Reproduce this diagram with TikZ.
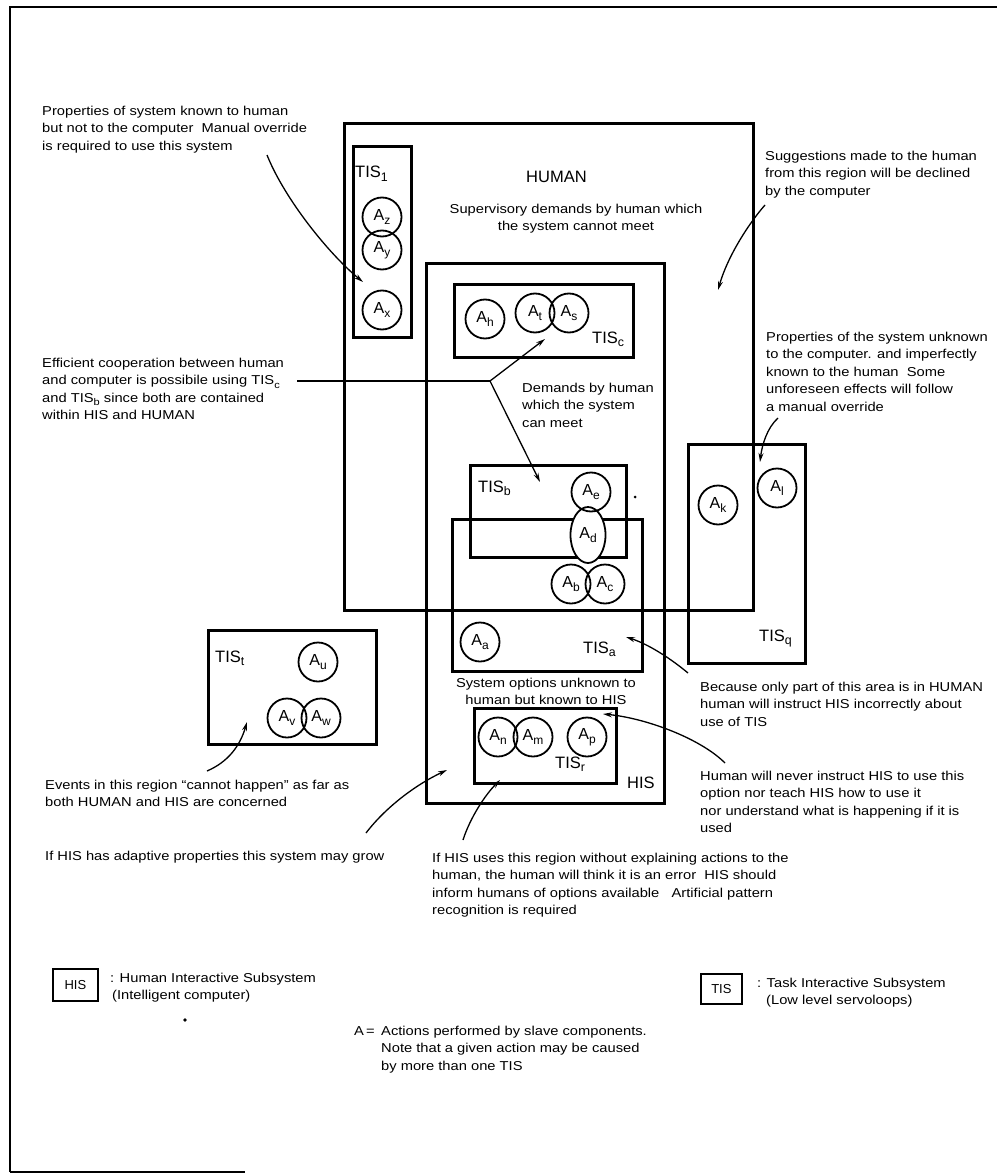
\documentclass[tikz,border=0pt]{standalone}
\usepackage{fontspec}
\setmainfont{Liberation Sans}[FakeStretch=1.14]
\newfontfamily\labfam{Liberation Sans}
\usepackage{graphicx}
\usetikzlibrary{arrows.meta,shapes.geometric}
\newcommand\lo[1]{\raisebox{-0.45ex}{\scalebox{0.75}{#1}}}
\newcommand\notefont{\fontsize{12.9}{17.5}\selectfont}
\newcommand\labfont{\labfam\fontsize{16.5}{18}\selectfont}
\newcommand\actfont{\labfam\fontsize{16}{18}\selectfont}
\tikzset{
  frameline/.style={line width=1.5pt},
  box/.style={draw, rectangle, line width=2.6pt, anchor=north west, inner sep=0},
  act/.style={draw, circle, line width=1.8pt, minimum size=39pt, inner sep=0, font=\actfont},
  actfill/.style={fill=white},
  note/.style={anchor=north west, inner sep=0, align=left, font=\notefont},
  lab/.style={anchor=base west, inner sep=0, font=\labfont},
  lead/.style={line width=1.3pt, -{Stealth[length=9pt,width=5pt]}},
  plain/.style={line width=1.3pt},
}
\begin{document}
\begin{tikzpicture}[x=1pt,y=-1pt]
\useasboundingbox (0,0) rectangle (997,1174);
% outer frame (as scanned)
\draw[frameline] (10,1172) -- (10,7) -- (997,7);
\draw[frameline] (10,1172) -- (245,1172);

% boxes
\node[box, minimum width=409pt, minimum height=487pt] (human) at (343,122) {};
\node[box, minimum width=58pt, minimum height=191pt] (tis1) at (352,145) {};
\node[box, minimum width=238pt, minimum height=540pt] (his) at (425,262) {};
\node[box, minimum width=179pt, minimum height=73pt] (tisc) at (453,283) {};
\node[box, minimum width=156pt, minimum height=92pt] (tisb) at (469,464) {};
\node[box, minimum width=190pt, minimum height=152pt] (tisa) at (451,518) {};
\node[box, minimum width=142pt, minimum height=75pt] (tisr) at (473,707) {};
\node[box, minimum width=117pt, minimum height=219pt] (tisq) at (687,443) {};
\node[box, minimum width=168pt, minimum height=114pt] (tist) at (207,629) {};

% white fills under the action circles
\foreach \p in {(382,217),(382,250),(382,310),(485,319),(535,313),(569,313),
  (591,492),(571,584),(605,584),(480,642),(498,737),(533,737),(587,737),
  (718,505),(777,488),(318,662),(287,718),(321,718)}
  \fill[actfill] \p circle (19.5pt);
\fill[actfill] (588,535) ellipse (17.5pt and 28pt);

% action circles
\node[act] (az) at (382,217) {A\lo{z}};
\node[act] (ay) at (382,250) {A\lo{y}};
\node[act] (ax) at (382,310) {A\lo{x}};
\node[act] (ah) at (485,319) {A\lo{h}};
\node[act] (at) at (535,313) {A\lo{t}};
\node[act] (as) at (569,313) {A\lo{s}};
\node[act] (ae) at (591,492) {A\lo{e}};
\node[draw, ellipse, line width=1.8pt, minimum width=35pt, minimum height=56pt, inner sep=0, font=\actfont] (ad) at (588,535) {A\lo{d}};
\node[act] (ab) at (571,584) {A\lo{b}};
\node[act] (ac) at (605,584) {A\lo{c}};
\node[act] (aa) at (480,642) {A\lo{a}};
\node[act] (an) at (498,737) {A\lo{n}};
\node[act] (am) at (533,737) {A\lo{m}};
\node[act] (ap) at (587,737) {A\lo{p}};
\node[act] (ak) at (718,505) {A\lo{k}};
\node[act] (al) at (777,488) {A\lo{l}};
\node[act] (au) at (318,662) {A\lo{u}};
\node[act] (av) at (287,718) {A\lo{v}};
\node[act] (aw) at (321,718) {A\lo{w}};

% box labels
\node[lab] (l1) at (355,178) {TIS\lo{1}};
\node[lab] (lc) at (592,343) {TIS\lo{c}};
\node[lab] (lb) at (478,492) {TIS\lo{b}};
\node[lab] (la) at (583,653) {TIS\lo{a}};
\node[lab] (lr) at (555,768) {TIS\lo{r}};
\node[lab] (lq) at (759,641) {TIS\lo{q}};
\node[lab] (lt) at (215,662) {TIS\lo{t}};
\node[lab] (lhis) at (627,788) {HIS};
\node[lab] (lhuman) at (526,183) {HUMAN};

% notes
\node[anchor=north, inner sep=0, align=center, font=\notefont] (tsup) at (576,201)
  {\strut Supervisory demands by human which\\the system cannot meet};
\node[note] (t1) at (42,103) {\strut Properties of system known to human\\but not to the computer\ \ Manual override\\is required to use this system};
\node[note] (t2) at (765,148) {\strut Suggestions made to the human\\from this region will be declined\\by the computer};
\node[note] (t3) at (766,329) {\strut Properties of the system unknown\\to the computer. and imperfectly\\known to the human\ \ Some\\unforeseen effects will follow\\a manual override};
\node[note] (t4) at (42,355) {\strut Efficient cooperation between human\\and computer is possibile using TIS\lo{c}\\and TIS\lo{b} since both are contained\\within HIS and HUMAN};
\node[note] (t5) at (522,380) {\strut Demands by human\\which the system\\can meet};
\node[anchor=north, inner sep=0, align=center, font=\notefont] (t6) at (546,675)
  {\strut System options unknown to\\human but known to HIS};
\node[note] (t7) at (700,679) {\strut Because only part of this area is in HUMAN\\human will instruct HIS incorrectly about\\use of TIS};
\node[note] (t8) at (700,768) {\strut Human will never instruct HIS to use this\\option nor teach HIS how to use it\\nor understand what is happening if it is\\used};
\node[note] (t9) at (45,777) {\strut Events in this region ``cannot happen'' as far as\\both HUMAN and HIS are concerned};
\node[note] (t10) at (45,848) {\strut If HIS has adaptive properties this system may grow};
\node[note] (t11) at (432,850) {\strut If HIS uses this region without explaining actions to the\\human, the human will think it is an error\ \ HIS should\\inform humans of options available\ \ \ Artificial pattern\\recognition is required};

% legend
\node[box, line width=1.8pt, minimum width=45pt, minimum height=32pt, font=\labfam\fontsize{13}{15}\selectfont] (kh) at (52,968) {HIS};
\node[note] (khtext) at (110,970) {\strut : Human Interactive Subsystem\\\hspace*{2pt}(Intelligent computer)};
\node[box, line width=1.8pt, minimum width=41pt, minimum height=30pt, font=\labfam\fontsize{13}{15}\selectfont] (kt) at (700,973) {TIS};
\node[note] (kttext) at (757,975) {\strut : Task Interactive Subsystem\\\hspace*{9pt}(Low level servoloops)};
\node[note] (ka) at (354,1023) {\strut A\,=};
\node[note] (katext) at (381,1023) {\strut Actions performed by slave components.\\Note that a given action may be caused\\by more than one TIS};

% specks
\fill (635,497) circle (1.5pt);
\fill (185,1020) circle (1.8pt);

% leader arrows
\coordinate (s1) at (267,155); \coordinate (e1) at (363,282);
\draw[lead] (s1) .. controls (285,200) and (330,255) .. (e1);
\coordinate (s2) at (765,205); \coordinate (e2) at (718,290);
\draw[lead] (s2) .. controls (750,222) and (728,255) .. (e2);
\coordinate (s3) at (778,418); \coordinate (e3) at (760,462);
\draw[lead] (s3) .. controls (767,428) and (762,445) .. (e3);
\coordinate (s4) at (297,381); \coordinate (j4) at (490,381);
\coordinate (e4c) at (545,339); \coordinate (e4b) at (540,482);
\draw[plain] (s4) -- (j4);
\draw[lead] (j4) -- (e4c);
\draw[lead] (j4) -- (e4b);
\coordinate (s5) at (688,673); \coordinate (e5) at (626,637);
\draw[lead] (s5) .. controls (670,658) and (648,644) .. (e5);
\coordinate (s6) at (725,763); \coordinate (e6) at (603,714);
\draw[lead] (s6) .. controls (700,738) and (645,718) .. (e6);
\coordinate (s7) at (207,771); \coordinate (e7) at (247,722);
\draw[lead] (s7) .. controls (228,762) and (240,746) .. (e7);
\coordinate (s8) at (366,833); \coordinate (e8) at (447,770);
\draw[lead] (s8) .. controls (385,808) and (415,785) .. (e8);
\coordinate (s9) at (463,840); \coordinate (e9) at (500,780);
\draw[lead] (s9) .. controls (470,818) and (485,795) .. (e9);
\end{tikzpicture}
\end{document}
